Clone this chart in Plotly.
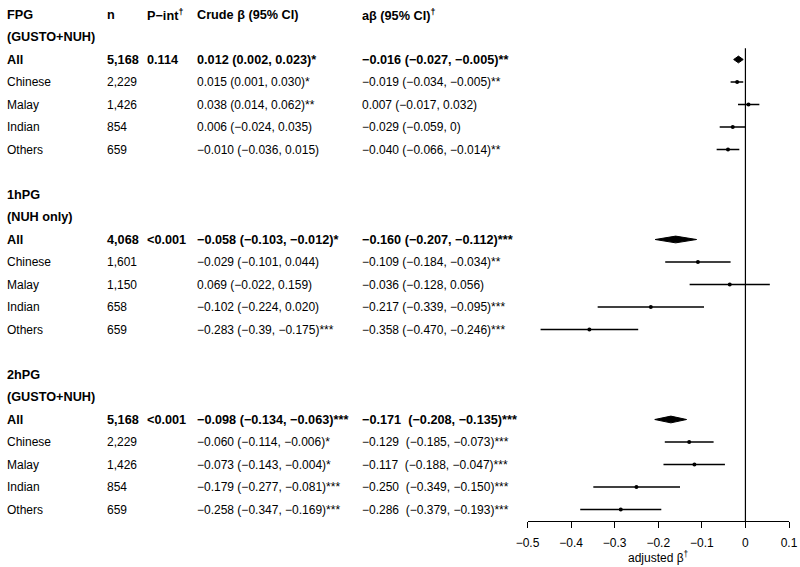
import plotly.graph_objects as go

# ---------------- data ----------------
blocks = ["FPG", "1hPG", "2hPG"]
block_sub = ["(GUSTO+NUH)", "(NUH only)", "(GUSTO+NUH)"]
subgroups = ["All", "Chinese", "Malay", "Indian", "Others"]
n_values = [[5168, 2229, 1426, 854, 659],
            [4068, 1601, 1150, 658, 659],
            [5168, 2229, 1426, 854, 659]]
p_int = ["0.114", "<0.001", "<0.001"]
crude_text = [
    ["0.012 (0.002, 0.023)*", "0.015 (0.001, 0.030)*", "0.038 (0.014, 0.062)**",
     "0.006 (−0.024, 0.035)", "−0.010 (−0.036, 0.015)"],
    ["−0.058 (−0.103, −0.012)*", "−0.029 (−0.101, 0.044)", "0.069 (−0.022, 0.159)",
     "−0.102 (−0.224, 0.020)", "−0.283 (−0.39, −0.175)***"],
    ["−0.098 (−0.134, −0.063)***", "−0.060 (−0.114, −0.006)*", "−0.073 (−0.143, −0.004)*",
     "−0.179 (−0.277, −0.081)***", "−0.258 (−0.347, −0.169)***"],
]
adj_text = [
    ["−0.016 (−0.027, −0.005)**", "−0.019 (−0.034, −0.005)**", "0.007 (−0.017, 0.032)",
     "−0.029 (−0.059, 0)", "−0.040 (−0.066, −0.014)**"],
    ["−0.160 (−0.207, −0.112)***", "−0.109 (−0.184, −0.034)**", "−0.036 (−0.128, 0.056)",
     "−0.217 (−0.339, −0.095)***", "−0.358 (−0.470, −0.246)***"],
    ["−0.171\u00a0 (−0.208, −0.135)***", "−0.129\u00a0 (−0.185, −0.073)***", "−0.117\u00a0 (−0.188, −0.047)***",
     "−0.250\u00a0 (−0.349, −0.150)***", "−0.286\u00a0 (−0.379, −0.193)***"],
]
adj_est = [[-0.016, -0.019, 0.007, -0.029, -0.040],
           [-0.160, -0.109, -0.036, -0.217, -0.358],
           [-0.171, -0.129, -0.117, -0.250, -0.286]]
adj_lo = [[-0.027, -0.034, -0.017, -0.059, -0.066],
          [-0.207, -0.184, -0.128, -0.339, -0.470],
          [-0.208, -0.185, -0.188, -0.349, -0.379]]
adj_hi = [[-0.005, -0.005, 0.032, 0.0, -0.014],
          [-0.112, -0.034, 0.056, -0.095, -0.246],
          [-0.135, -0.073, -0.047, -0.150, -0.193]]
col_headers = ["n", "P−int<sup>†</sup>", "Crude β (95% CI)", "aβ (95% CI)<sup>†</sup>"]
tick_vals = [-0.5, -0.4, -0.3, -0.2, -0.1, 0, 0.1]
tick_text = ["−0.5", "−0.4", "−0.3", "−0.2", "−0.1", "0", "0.1"]
x_title = "adjusted β<sup>†</sup>"

# ---------------- layout constants ----------------
W, H = 800, 567
FONT = "Liberation Sans, Arial, sans-serif"
FS = 12
FS_BOLD = 12.7
col_x = [5, 105, 145, 195, 360]          # px, left edges of table columns
row_top_px, row_pitch = 14.5, 22.5       # row 0 centre and spacing
axis_px = 521                            # x axis line position
bottom_margin = H - axis_px
x_left_px, x_right_px = 527.5, 789.0
y_top = -row_top_px / row_pitch
y_bot = (axis_px - row_top_px) / row_pitch

fig = go.Figure()
ann = []

def add_text(px, row, txt, bold=False):
    ann.append(dict(x=px / W, xref="paper", y=row, yref="y", text=(f"<b>{txt}</b>" if bold else txt),
                    showarrow=False, xanchor="left", yanchor="middle",
                    font=dict(family=FONT, size=(FS_BOLD if bold else FS), color="black")))

# column headers
for i, h in enumerate(col_headers):
    add_text(col_x[i + 1], 0, h, bold=True)

ci_x, ci_y, pt_x, pt_y, dia_x, dia_y = [], [], [], [], [], []
for b in range(len(blocks)):
    r0 = 8 * b
    add_text(col_x[0], r0, blocks[b], bold=True)
    add_text(col_x[0], r0 + 1, block_sub[b], bold=True)
    for k, sg in enumerate(subgroups):
        r = r0 + 2 + k
        bold = (k == 0)
        add_text(col_x[0], r, sg, bold)
        add_text(col_x[1], r, f"{n_values[b][k]:,}", bold)
        if k == 0:
            add_text(col_x[2], r, p_int[b], bold)
        add_text(col_x[3], r, crude_text[b][k], bold)
        add_text(col_x[4], r, adj_text[b][k], bold)
        if k == 0:
            hh = 0.15
            dia_x += [adj_lo[b][k], adj_est[b][k], adj_hi[b][k], adj_est[b][k], adj_lo[b][k], None]
            dia_y += [r, r - hh, r, r + hh, r, None]
        else:
            ci_x += [adj_lo[b][k], adj_hi[b][k], None]
            ci_y += [r, r, None]
            pt_x.append(adj_est[b][k])
            pt_y.append(r)

fig.add_trace(go.Scatter(x=ci_x, y=ci_y, mode="lines", line=dict(color="black", width=1.3),
                         hoverinfo="skip", showlegend=False))
fig.add_trace(go.Scatter(x=pt_x, y=pt_y, mode="markers",
                         marker=dict(color="black", size=4, symbol="circle"),
                         showlegend=False))
fig.add_trace(go.Scatter(x=dia_x, y=dia_y, mode="lines", fill="toself", fillcolor="black",
                         line=dict(color="black", width=1), hoverinfo="skip", showlegend=False))

# zero reference line
fig.add_shape(type="line", x0=0, x1=0, y0=1.5, y1=y_bot, xref="x", yref="y",
              line=dict(color="black", width=1.2))

# axis title as annotation
ann.append(dict(x=(x_left_px + x_right_px) / 2 / W, xref="paper",
                y=(axis_px - 557) / axis_px, yref="paper", text=x_title, showarrow=False,
                xanchor="center", yanchor="middle", font=dict(family=FONT, size=FS, color="black")))

fig.update_layout(
    width=W, height=H, margin=dict(l=0, r=0, t=0, b=bottom_margin, autoexpand=False),
    paper_bgcolor="white", plot_bgcolor="white", annotations=ann,
    font=dict(family=FONT, size=FS, color="black"),
    xaxis=dict(domain=[x_left_px / W, x_right_px / W], range=[-0.5, 0.1], showgrid=False,
               zeroline=False, showline=True, linecolor="black", linewidth=1.2,
               ticks="outside", ticklen=6, tickwidth=1.2, tickcolor="black",
               tickvals=tick_vals, ticktext=tick_text, ticklabelstandoff=4, automargin=False,
               tickfont=dict(family=FONT, size=FS, color="black"), fixedrange=True),
    yaxis=dict(range=[y_bot, y_top], visible=False, fixedrange=True, automargin=False),
)

fig.write_html("out.html", config={"displayModeBar": False},
               post_script="document.body.style.margin='0px';")
